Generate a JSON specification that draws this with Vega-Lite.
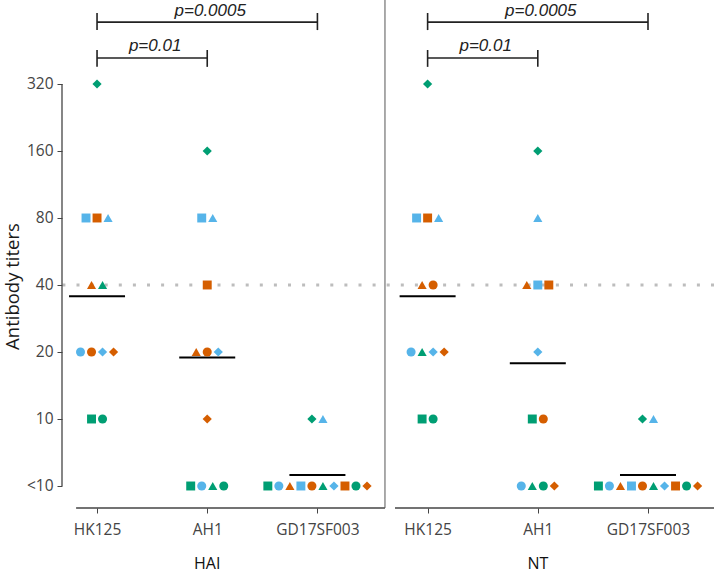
{
  "$schema": "https://vega.github.io/schema/vega-lite/v6.json",
  "width": 652,
  "height": 508,
  "autosize": {"type": "none"},
  "padding": {"left": 62, "top": 0, "right": 0, "bottom": 66},
  "background": "white",
  "config": {
    "view": {"stroke": null},
    "font": "Open Sans",
    "axisX": {
      "domain": false, "grid": false, "title": null,
      "ticks": true, "tickSize": 5, "tickColor": "#444444", "tickWidth": 1,
      "labelFontSize": 15.5, "labelColor": "#444444", "labelPadding": 9, "labelFont": "Open Sans"
    },
    "axisY": {
      "domain": false, "grid": false,
      "ticks": true, "tickSize": 5, "tickColor": "#444444", "tickWidth": 1,
      "labelFontSize": 15.5, "labelColor": "#444444", "labelPadding": 4, "labelFont": "Open Sans",
      "titleFont": "Open Sans", "titleFontSize": 18.5, "titleFontWeight": "normal", "titleColor": "#1a1a1a"
    }
  },
  "datasets": {
    "subjects": [
      {"id": 1, "group": "C", "marker": "1"},
      {"id": 2, "group": "A", "marker": "2"},
      {"id": 3, "group": "B", "marker": "3"},
      {"id": 4, "group": "A", "marker": "1"},
      {"id": 5, "group": "B", "marker": "2"},
      {"id": 6, "group": "C", "marker": "3"},
      {"id": 7, "group": "A", "marker": "4"},
      {"id": 8, "group": "B", "marker": "1"},
      {"id": 9, "group": "C", "marker": "2"},
      {"id": 10, "group": "B", "marker": "4"},
      {"id": 11, "group": "C", "marker": "4"},
      {"id": 12, "group": "A", "marker": "3"}
    ],
    "titers": [
      {"assay": "HAI", "virus": "HK125", "id": 1, "titer": 10},
      {"assay": "HAI", "virus": "HK125", "id": 2, "titer": 20},
      {"assay": "HAI", "virus": "HK125", "id": 3, "titer": 40},
      {"assay": "HAI", "virus": "HK125", "id": 4, "titer": 80},
      {"assay": "HAI", "virus": "HK125", "id": 5, "titer": 20},
      {"assay": "HAI", "virus": "HK125", "id": 6, "titer": 40},
      {"assay": "HAI", "virus": "HK125", "id": 7, "titer": 20},
      {"assay": "HAI", "virus": "HK125", "id": 8, "titer": 80},
      {"assay": "HAI", "virus": "HK125", "id": 9, "titer": 10},
      {"assay": "HAI", "virus": "HK125", "id": 10, "titer": 20},
      {"assay": "HAI", "virus": "HK125", "id": 11, "titer": 320},
      {"assay": "HAI", "virus": "HK125", "id": 12, "titer": 80},
      {"assay": "HAI", "virus": "AH1", "id": 1, "titer": 5},
      {"assay": "HAI", "virus": "AH1", "id": 2, "titer": 5},
      {"assay": "HAI", "virus": "AH1", "id": 3, "titer": 20},
      {"assay": "HAI", "virus": "AH1", "id": 4, "titer": 80},
      {"assay": "HAI", "virus": "AH1", "id": 5, "titer": 20},
      {"assay": "HAI", "virus": "AH1", "id": 6, "titer": 5},
      {"assay": "HAI", "virus": "AH1", "id": 7, "titer": 20},
      {"assay": "HAI", "virus": "AH1", "id": 8, "titer": 40},
      {"assay": "HAI", "virus": "AH1", "id": 9, "titer": 5},
      {"assay": "HAI", "virus": "AH1", "id": 10, "titer": 10},
      {"assay": "HAI", "virus": "AH1", "id": 11, "titer": 160},
      {"assay": "HAI", "virus": "AH1", "id": 12, "titer": 80},
      {"assay": "HAI", "virus": "GD17SF003", "id": 1, "titer": 5},
      {"assay": "HAI", "virus": "GD17SF003", "id": 2, "titer": 5},
      {"assay": "HAI", "virus": "GD17SF003", "id": 3, "titer": 5},
      {"assay": "HAI", "virus": "GD17SF003", "id": 4, "titer": 5},
      {"assay": "HAI", "virus": "GD17SF003", "id": 5, "titer": 5},
      {"assay": "HAI", "virus": "GD17SF003", "id": 6, "titer": 5},
      {"assay": "HAI", "virus": "GD17SF003", "id": 7, "titer": 5},
      {"assay": "HAI", "virus": "GD17SF003", "id": 8, "titer": 5},
      {"assay": "HAI", "virus": "GD17SF003", "id": 9, "titer": 5},
      {"assay": "HAI", "virus": "GD17SF003", "id": 10, "titer": 5},
      {"assay": "HAI", "virus": "GD17SF003", "id": 11, "titer": 10},
      {"assay": "HAI", "virus": "GD17SF003", "id": 12, "titer": 10},
      {"assay": "NT", "virus": "HK125", "id": 1, "titer": 10},
      {"assay": "NT", "virus": "HK125", "id": 2, "titer": 20},
      {"assay": "NT", "virus": "HK125", "id": 3, "titer": 40},
      {"assay": "NT", "virus": "HK125", "id": 4, "titer": 80},
      {"assay": "NT", "virus": "HK125", "id": 5, "titer": 40},
      {"assay": "NT", "virus": "HK125", "id": 6, "titer": 20},
      {"assay": "NT", "virus": "HK125", "id": 7, "titer": 20},
      {"assay": "NT", "virus": "HK125", "id": 8, "titer": 80},
      {"assay": "NT", "virus": "HK125", "id": 9, "titer": 10},
      {"assay": "NT", "virus": "HK125", "id": 10, "titer": 20},
      {"assay": "NT", "virus": "HK125", "id": 11, "titer": 320},
      {"assay": "NT", "virus": "HK125", "id": 12, "titer": 80},
      {"assay": "NT", "virus": "AH1", "id": 1, "titer": 10},
      {"assay": "NT", "virus": "AH1", "id": 2, "titer": 5},
      {"assay": "NT", "virus": "AH1", "id": 3, "titer": 40},
      {"assay": "NT", "virus": "AH1", "id": 4, "titer": 40},
      {"assay": "NT", "virus": "AH1", "id": 5, "titer": 10},
      {"assay": "NT", "virus": "AH1", "id": 6, "titer": 5},
      {"assay": "NT", "virus": "AH1", "id": 7, "titer": 20},
      {"assay": "NT", "virus": "AH1", "id": 8, "titer": 40},
      {"assay": "NT", "virus": "AH1", "id": 9, "titer": 5},
      {"assay": "NT", "virus": "AH1", "id": 10, "titer": 5},
      {"assay": "NT", "virus": "AH1", "id": 11, "titer": 160},
      {"assay": "NT", "virus": "AH1", "id": 12, "titer": 80},
      {"assay": "NT", "virus": "GD17SF003", "id": 1, "titer": 5},
      {"assay": "NT", "virus": "GD17SF003", "id": 2, "titer": 5},
      {"assay": "NT", "virus": "GD17SF003", "id": 3, "titer": 5},
      {"assay": "NT", "virus": "GD17SF003", "id": 4, "titer": 5},
      {"assay": "NT", "virus": "GD17SF003", "id": 5, "titer": 5},
      {"assay": "NT", "virus": "GD17SF003", "id": 6, "titer": 5},
      {"assay": "NT", "virus": "GD17SF003", "id": 7, "titer": 5},
      {"assay": "NT", "virus": "GD17SF003", "id": 8, "titer": 5},
      {"assay": "NT", "virus": "GD17SF003", "id": 9, "titer": 5},
      {"assay": "NT", "virus": "GD17SF003", "id": 10, "titer": 5},
      {"assay": "NT", "virus": "GD17SF003", "id": 11, "titer": 10},
      {"assay": "NT", "virus": "GD17SF003", "id": 12, "titer": 10}
    ],
    "means": [
      {"assay": "HAI", "virus": "HK125", "mean": 35.6},
      {"assay": "HAI", "virus": "AH1", "mean": 18.9},
      {"assay": "HAI", "virus": "GD17SF003", "mean": 5.6},
      {"assay": "NT", "virus": "HK125", "mean": 35.6},
      {"assay": "NT", "virus": "AH1", "mean": 17.8},
      {"assay": "NT", "virus": "GD17SF003", "mean": 5.6}
    ],
    "tests": [
      {"assay": "HAI", "from": "HK125", "to": "GD17SF003", "p": "p=0.0005"},
      {"assay": "HAI", "from": "HK125", "to": "AH1", "p": "p=0.01"},
      {"assay": "NT", "from": "HK125", "to": "GD17SF003", "p": "p=0.0005"},
      {"assay": "NT", "from": "HK125", "to": "AH1", "p": "p=0.01"}
    ],
    "panels": [{"assay": "HAI"}, {"assay": "NT"}],
    "one": [{}]
  },
  "layer": [
    {
      "data": {"name": "titers"},
      "transform": [
        {"calculate": "indexof(['HK125','AH1','GD17SF003'], datum.virus) + 1 + (datum.assay == 'NT' ? 3 : 0)", "as": "xi"}
      ],
      "mark": {"type": "point", "opacity": 0, "size": 1},
      "encoding": {
        "x": {
          "field": "xi", "type": "quantitative",
          "scale": {"domain": [0.682, 6.599], "nice": false, "zero": false},
          "axis": {
            "values": [1, 2, 3, 4, 5, 6],
            "labelExpr": "datum.value == 1 || datum.value == 4 ? 'HK125' : (datum.value == 2 || datum.value == 5 ? 'AH1' : 'GD17SF003')",
            "title": null
          }
        },
        "y": {
          "field": "titer", "type": "quantitative",
          "scale": {"type": "log", "base": 2, "domain": [3.982, 763], "nice": false, "zero": false},
          "axis": {
            "values": [5, 10, 20, 40, 80, 160, 320],
            "labelExpr": "datum.value == 5 ? '<10' : datum.label",
            "title": "Antibody titers",
            "titleX": -50, "titleY": 286, "titleAngle": -90, "titleAlign": "center", "titleBaseline": "middle"
          }
        }
      }
    },
    {
      "data": {"name": "one"},
      "layer": [
        {
          "mark": {"type": "rule", "color": "#bdbdbd", "strokeWidth": 3, "strokeDash": [3, 11.1], "strokeCap": "butt"},
          "encoding": {
            "y": {"datum": 40, "type": "quantitative"}
          }
        },
        {
          "mark": {"type": "rule", "color": "#444444", "strokeWidth": 1.3},
          "encoding": {
            "x": {"datum": 0.682, "type": "quantitative"},
            "y": {"datum": 5, "type": "quantitative"},
            "y2": {"datum": 320}
          }
        },
        {
          "mark": {"type": "rule", "color": "#444444", "strokeWidth": 1.3},
          "encoding": {
            "x": {"datum": 0.81, "type": "quantitative"},
            "x2": {"datum": 3.613},
            "y": {"datum": 3.982, "type": "quantitative"}
          }
        },
        {
          "mark": {"type": "rule", "color": "#444444", "strokeWidth": 1.3},
          "encoding": {
            "x": {"datum": 3.704, "type": "quantitative"},
            "x2": {"datum": 6.599},
            "y": {"datum": 3.982, "type": "quantitative"}
          }
        },
        {
          "mark": {"type": "rule", "color": "#555555", "strokeWidth": 1},
          "encoding": {
            "x": {"datum": 3.613, "type": "quantitative"},
            "y": {"datum": 3.982, "type": "quantitative"},
            "y2": {"datum": 763}
          }
        }
      ]
    },
    {
      "data": {"name": "means"},
      "transform": [
        {"calculate": "indexof(['HK125','AH1','GD17SF003'], datum.virus) + 1 + (datum.assay == 'NT' ? 3 : 0)", "as": "xi"}
      ],
      "mark": {"type": "tick", "orient": "horizontal", "color": "#000000", "opacity": 1, "size": 56, "thickness": 2},
      "encoding": {
        "x": {"field": "xi", "type": "quantitative"},
        "y": {"field": "mean", "type": "quantitative"}
      }
    },
    {
      "data": {"name": "titers"},
      "transform": [
        {"lookup": "id", "from": {"data": {"name": "subjects"}, "key": "id", "fields": ["group", "marker"]}},
        {"window": [{"op": "row_number", "as": "rk"}, {"op": "count", "as": "n"}], "groupby": ["assay", "virus", "titer"], "sort": [{"field": "id"}], "frame": [null, null]},
        {"calculate": "indexof(['HK125','AH1','GD17SF003'], datum.virus) + 1 + (datum.assay == 'NT' ? 3 : 0)", "as": "xi"},
        {"calculate": "datum.xi + (datum.rk - (datum.n + 1) / 2) * 0.1", "as": "xpos"}
      ],
      "mark": {"type": "point", "filled": true, "opacity": 1, "strokeWidth": 0},
      "encoding": {
        "x": {"field": "xpos", "type": "quantitative"},
        "y": {"field": "titer", "type": "quantitative"},
        "color": {"field": "group", "type": "nominal", "scale": {"domain": ["A", "B", "C"], "range": ["#56B4E9", "#D55E00", "#009E73"]}, "legend": null},
        "shape": {"field": "marker", "type": "nominal", "scale": {"domain": ["1", "2", "3", "4"], "range": ["square", "circle", "triangle-up", "diamond"]}, "legend": null},
        "size": {"field": "marker", "type": "nominal", "scale": {"domain": ["1", "2", "3", "4"], "range": [80, 85, 115, 62]}, "legend": null}
      }
    },
    {
      "data": {"name": "tests"},
      "transform": [
        {"calculate": "(datum.assay == 'NT' ? 3 : 0) + indexof(['HK125','AH1','GD17SF003'], datum.from) + 1", "as": "x1"},
        {"calculate": "(datum.assay == 'NT' ? 3 : 0) + indexof(['HK125','AH1','GD17SF003'], datum.to) + 1", "as": "x2"},
        {"calculate": "(datum.x1 + datum.x2) / 2", "as": "xm"},
        {"calculate": "datum.to == 'AH1' ? 419 : 607", "as": "lvl"},
        {"calculate": "datum.to == 'AH1' ? 382 : 559", "as": "lo"},
        {"calculate": "datum.to == 'AH1' ? 455 : 667", "as": "hi"},
        {"calculate": "datum.to == 'AH1' ? 448 : 645", "as": "ty"}
      ],
      "layer": [
        {
          "mark": {"type": "rule", "color": "#222222", "strokeWidth": 1.6},
          "encoding": {
            "x": {"field": "x1", "type": "quantitative"},
            "x2": {"field": "x2"},
            "y": {"field": "lvl", "type": "quantitative"}
          }
        },
        {
          "mark": {"type": "rule", "color": "#222222", "strokeWidth": 1.6},
          "encoding": {
            "x": {"field": "x1", "type": "quantitative"},
            "y": {"field": "lo", "type": "quantitative"},
            "y2": {"field": "hi"}
          }
        },
        {
          "mark": {"type": "rule", "color": "#222222", "strokeWidth": 1.6},
          "encoding": {
            "x": {"field": "x2", "type": "quantitative"},
            "y": {"field": "lo", "type": "quantitative"},
            "y2": {"field": "hi"}
          }
        },
        {
          "mark": {"type": "text", "font": "Liberation Sans", "fontStyle": "italic", "fontSize": 17, "color": "#222222", "baseline": "alphabetic", "align": "center", "dx": 3},
          "encoding": {
            "x": {"field": "xm", "type": "quantitative"},
            "y": {"field": "ty", "type": "quantitative"},
            "text": {"field": "p"}
          }
        }
      ]
    },
    {
      "data": {"name": "panels"},
      "transform": [
        {"calculate": "datum.assay == 'NT' ? 5 : 2", "as": "xc"}
      ],
      "mark": {"type": "text", "font": "Open Sans", "fontSize": 16, "color": "#111111", "baseline": "middle", "align": "center"},
      "encoding": {
        "x": {"field": "xc", "type": "quantitative"},
        "y": {"datum": 2.23, "type": "quantitative"},
        "text": {"field": "assay"}
      }
    }
  ]
}
